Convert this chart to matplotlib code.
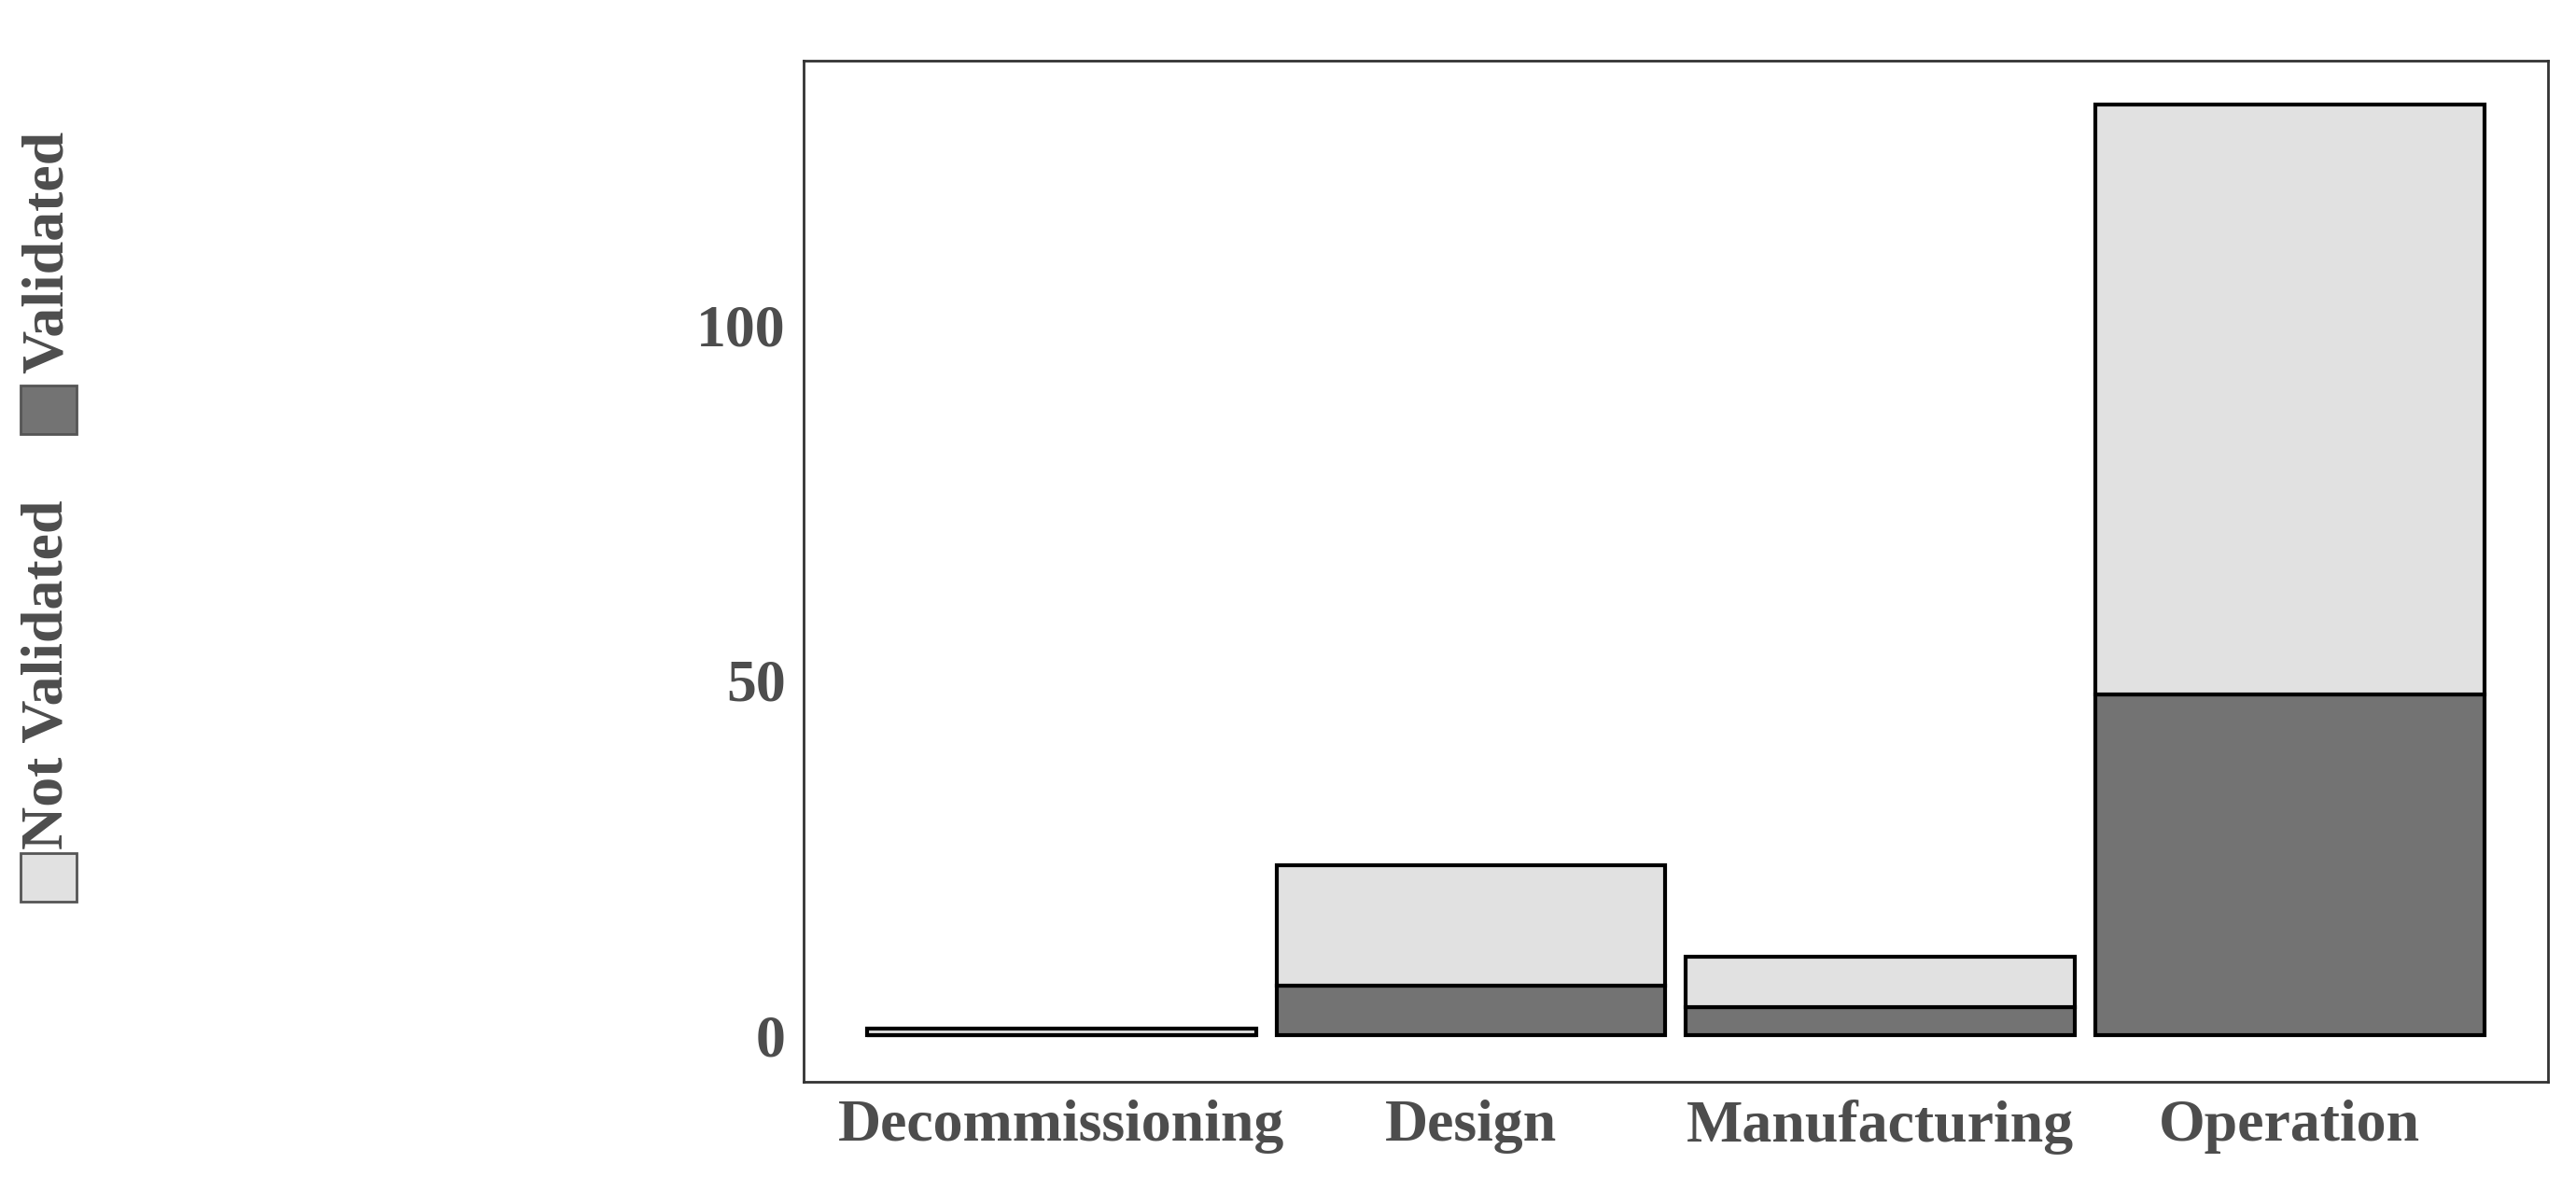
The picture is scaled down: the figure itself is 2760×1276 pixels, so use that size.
import matplotlib
matplotlib.use("Agg")
import matplotlib.pyplot as plt
from matplotlib.patches import Rectangle

categories = ["Decommissioning", "Design", "Manufacturing", "Operation"]
validated = [0, 7, 4, 48]
not_validated = [1, 17, 7, 83]
yticks = [0, 50, 100]

plt.rcParams['font.family'] = ['Liberation Serif', 'DejaVu Serif']
plt.rcParams['font.weight'] = 'bold'
tc = '#4d4d4d'
fig = plt.figure(figsize=(27.6, 12.76), dpi=100)
ax = fig.add_axes([0.312, 0.092, 0.677, 0.857])
x = range(len(categories))
ax.bar(x, validated, width=0.95, color='#737373', edgecolor='black', linewidth=3)
ax.bar(x, not_validated, bottom=validated, width=0.95, color='#e1e1e1', edgecolor='black', linewidth=3)
ax.set_xlim(-0.63, 3.63)
ax.set_ylim(-6.5, 137.2)
ax.set_xticks(list(x))
ax.set_xticklabels(categories)
ax.set_yticks(yticks)
for s in ax.spines.values():
    s.set_color('#333333'); s.set_linewidth(2)
ax.tick_params(axis='both', length=0, labelsize=46, labelcolor=tc, pad=14)
for lab in ax.get_xticklabels() + ax.get_yticklabels():
    lab.set_fontweight('bold')

# legend (rotated)
H = 1276.0; W = 2760.0
def sq(y0, color):
    fig.add_artist(Rectangle((22/W, y0), 60/W, 52/H, transform=fig.transFigure,
                             facecolor=color, edgecolor='#555555', linewidth=2))
sq(1 - 966/H, '#e1e1e1')
fig.text(52/W, 1 - 910/H, "Not Validated", rotation=90, ha='center', va='bottom',
         fontsize=46, fontweight='bold', color=tc)
sq(1 - 465/H, '#737373')
fig.text(52/W, 1 - 400/H, "Validated", rotation=90, ha='center', va='bottom',
         fontsize=46, fontweight='bold', color=tc)
fig.savefig("out.png", dpi=100)
